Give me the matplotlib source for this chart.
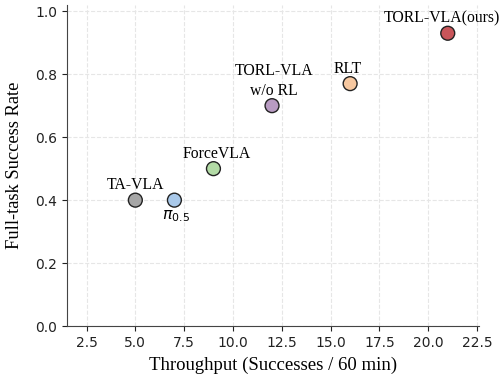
import matplotlib
matplotlib.use("Agg")
import matplotlib.pyplot as plt

names = ["TA-VLA", r"$\pi_{0.5}$", "ForceVLA", "TORL-VLA\nw/o RL", "RLT", "TORL-VLA(ours)"]
throughput = [5, 7, 9, 12, 16, 21]
success = [0.40, 0.40, 0.50, 0.70, 0.77, 0.93]
colors = ["#a6a6a6", "#a9c9ea", "#b3dba6", "#b89bc2", "#f7c8a0", "#c9555a"]
below = [False, True, False, False, False, False]
xshift = [0, 1, 2, 1.5, -2, -4]

fig = plt.figure(figsize=(5, 3.77), dpi=100)
ax = fig.add_axes([0.134, 0.135, 0.824, 0.852])
ax.grid(True, linestyle="--", color="#e6e6e6", linewidth=0.8)
ax.set_axisbelow(True)
ax.scatter(throughput, success, s=100, c=colors, edgecolors="#222222", linewidths=1.0, zorder=3)
serif = "Liberation Serif"
for x, y, n, b, dx in zip(throughput, success, names, below, xshift):
    if b:
        ax.annotate(n, (x, y), xytext=(dx, -6), textcoords="offset points",
                    ha="center", va="top", fontsize=11.3, family=serif)
    else:
        ax.annotate(n, (x, y), xytext=(dx, 5), textcoords="offset points",
                    ha="center", va="bottom", fontsize=11.3, family=serif, linespacing=1.3)
ax.set_xlim(1.5, 22.6)
ax.set_ylim(0, 1.02)
ax.set_xticks([2.5, 5, 7.5, 10, 12.5, 15, 17.5, 20, 22.5])
ax.set_yticks([0, 0.2, 0.4, 0.6, 0.8, 1.0])
ax.spines["top"].set_visible(False)
ax.spines["right"].set_visible(False)
for s in ["left", "bottom"]:
    ax.spines[s].set_color("#444444")
ax.tick_params(labelsize=10, colors="#222222")
ax.set_xlabel("Throughput (Successes / 60 min)", fontsize=13.5, family=serif, labelpad=5)
ax.set_ylabel("Full-task Success Rate", fontsize=13.3, family=serif, labelpad=9)
fig.savefig("out.png", dpi=100)
